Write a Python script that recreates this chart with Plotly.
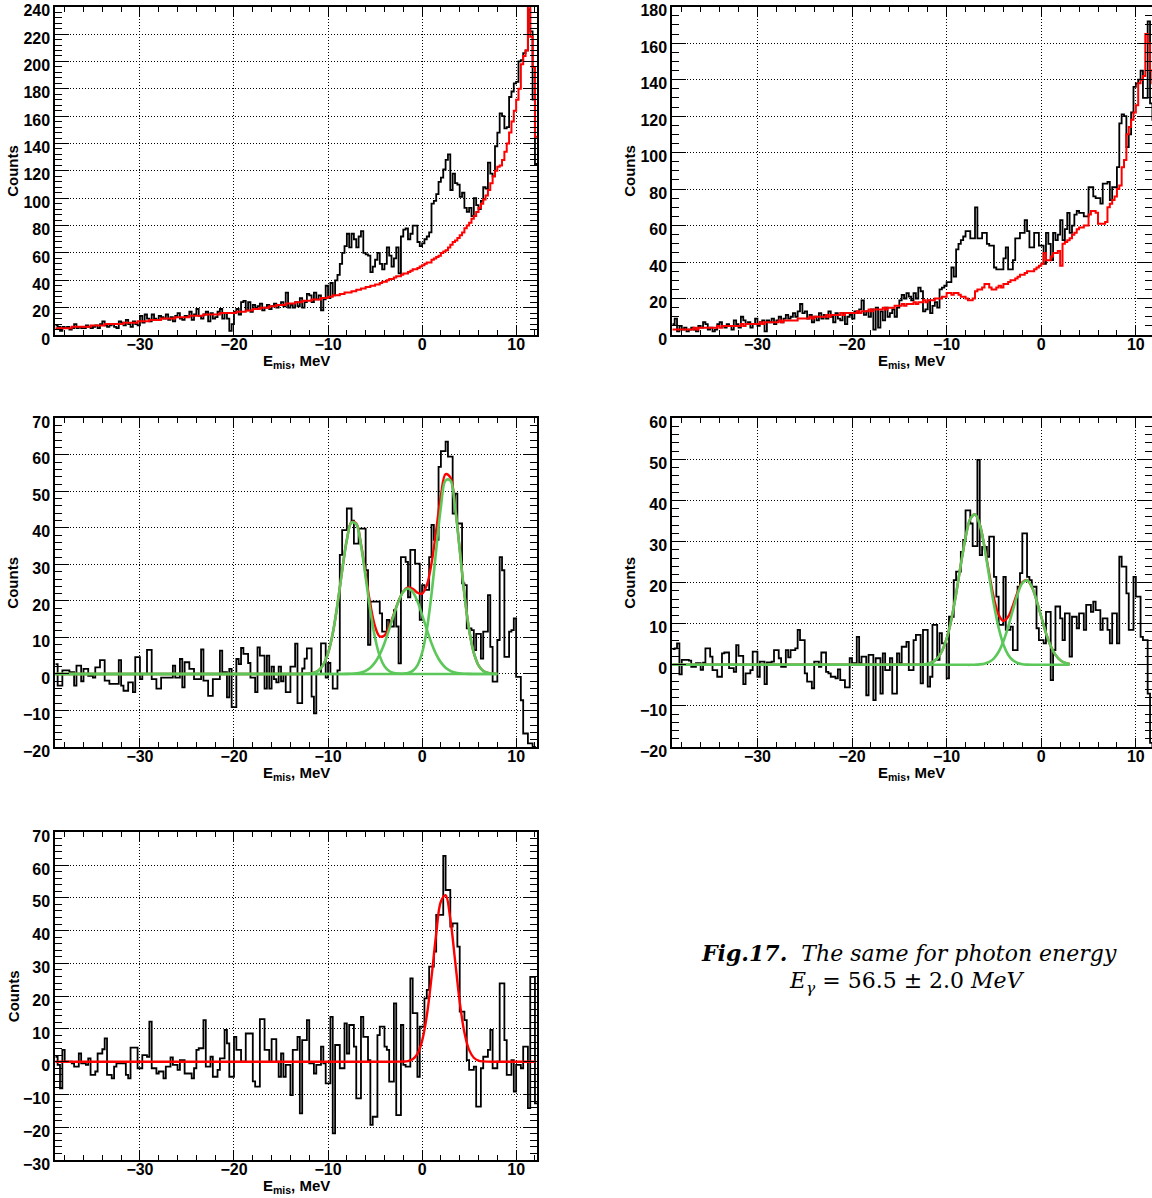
import numpy as np
import plotly.graph_objects as go

# ---------------- data ----------------
X_MIN = -39.0      # first bin low edge (MeV)
BIN_W = 0.25       # bin width (MeV)

# panel A (top-left): measured counts and background (red)
A_COUNTS = [
    7, 6, 3, 6,  5, 6, 4, 5,  8, 5, 6, 5,  5, 7, 6, 5,  6, 7, 5, 8,
    10, 7, 6, 7,  8, 6, 5, 10,  9, 7, 11, 8,  6, 10, 8, 7,  14, 9, 15, 12,
    10, 15, 12, 11,  14, 13, 12, 15,  11, 13, 10, 14,  16, 12, 11, 14,  13, 17, 11, 15,
    19, 14, 12, 15,  17, 10, 16, 12,  13, 17, 19, 12,  16, 12, 3, 8,  17, 19, 15, 24,
    25, 18, 24, 17,  22, 19, 21, 23,  18, 20, 22, 19,  21, 23, 20, 22,  24, 21, 31, 20,
    22, 20, 24, 21,  27, 20, 24, 30,  29, 24, 31, 26,  29, 18, 26, 36,  27, 38, 29, 40,
    44, 52, 60, 65,  74, 64, 74, 70,  64, 72, 76, 60,  59, 58, 46, 50,  55, 60, 52, 48,
    52, 64, 58, 50,  56, 64, 45, 72,  77, 78, 70, 74,  80, 80, 68, 65,  67, 70, 72, 75,
    96, 98, 103, 112,  115, 121, 128, 132,  106, 118, 111, 110,  101, 104, 93, 90,
    93, 87, 100, 95,  92, 98, 108, 107,  126, 118, 116, 138,  148, 162, 160, 151,
    152, 174, 178, 184,  185, 200, 201, 206,  208, 238, 222, 172,  125,
]
A_BACKGROUND = [
    5, 5, 5, 5,  5, 5, 5, 6,  6, 6, 6, 6,  6, 6, 6, 7,  7, 7, 7, 7,
    7, 8, 8, 8,  8, 8, 8, 8,  8, 9, 9, 9,  9, 9, 9, 10,  10, 10, 10, 10,
    11, 11, 11, 11,  11, 12, 12, 12,  12, 12, 12, 13,  13, 13, 13, 13,  13, 14, 14, 14,
    14, 14, 14, 15,  15, 15, 15, 15,  15, 15, 16, 16,  16, 16, 16, 16,  16, 17, 17, 17,
    17, 18, 18, 18,  19, 19, 19, 20,  20, 20, 20, 21,  21, 21, 22, 22,  22, 22, 23, 23,
    23, 23, 24, 24,  24, 25, 25, 25,  25, 26, 26, 26,  26, 27, 27, 27,  28, 28, 29, 29,
    29, 30, 30, 31,  31, 31, 32, 32,  33, 33, 34, 34,  35, 35, 36, 36,  37, 37, 38, 39,
    39, 40, 41, 41,  42, 43, 43, 44,  45, 45, 46, 47,  48, 48, 49, 50,  51, 52, 53, 53,
    55, 56, 57, 58,  60, 61, 62, 64,  66, 68, 69, 71,  73, 75, 78, 80,  82, 85, 87, 90,
    93, 96, 99, 102,  106, 111, 116, 120,  123, 124, 128, 134,  140, 148, 156, 164,
    172, 180, 198, 204,  208, 245, 218, 196,  145,
]

# panel B (top-right)
B_COUNTS = [
    6, 9, 2, 5,  3, 4, 2, 3,  4, 3, 2, 5,  4, 7, 6, 3,  4, 2, 3, 6,
    7, 5, 4, 6,  5, 3, 8, 6,  4, 10, 8, 6,  7, 4, 6, 9,  5, 7, 8, 2,
    8, 7, 9, 6,  8, 10, 7, 9,  11, 9, 10, 12,  10, 13, 17, 12,  13, 9, 11, 7,
    10, 8, 12, 9,  11, 9, 13, 10,  7, 12, 9, 8,  12, 6, 10, 11,  9, 13, 12, 14,
    19, 11, 13, 10,  14, 3, 15, 4,  13, 8, 15, 10,  12, 14, 10, 15,  19, 22, 20, 23,
    21, 19, 23, 20,  26, 24, 13, 14,  19, 12, 16, 18,  15, 25, 26, 27,  29, 29, 37, 32,
    47, 50, 52, 54,  57, 57, 53, 53,  70, 53, 53, 56,  56, 50, 49, 49,  37, 36, 36, 36,
    42, 48, 36, 36,  41, 53, 53, 56,  56, 63, 57, 48,  48, 56, 56, 49,  49, 39, 56, 50,
    41, 56, 52, 55,  63, 52, 58, 67,  56, 60, 66, 68,  67, 67, 65, 65,  81, 81, 76, 75,
    75, 72, 83, 83,  84, 74, 81, 81,  92, 116, 121, 120,  103, 110, 122, 136,
    138, 140, 145, 130,  130, 172, 127, 118,  110,
]
B_BACKGROUND = [
    3, 3, 3, 3,  3, 3, 3, 3,  3, 4, 3, 4,  4, 4, 4, 4,  4, 4, 4, 5,
    4, 5, 5, 5,  5, 5, 5, 5,  5, 6, 5, 6,  6, 6, 6, 6,  6, 7, 6, 7,
    7, 7, 7, 7,  7, 8, 7, 8,  8, 8, 8, 8,  8, 9, 9, 9,  9, 9, 10, 9,
    10, 10, 10, 10,  10, 11, 10, 11,  11, 11, 11, 12,  11, 12, 12, 12,  12, 12, 13, 12,
    13, 13, 13, 14,  13, 14, 14, 14,  14, 15, 14, 15,  15, 15, 16, 16,  16, 17, 16, 17,
    17, 17, 18, 17,  18, 18, 19, 18,  19, 19, 19, 20,  20, 20, 21, 21,  23, 23, 22, 23,
    23, 22, 21, 21,  20, 19, 19, 20,  24, 25, 25, 26,  28, 28, 26, 25,  25, 26, 27, 26,
    28, 28, 29, 30,  30, 31, 32, 33,  33, 34, 35, 35,  35, 36, 37, 38,  39, 45, 41, 41,
    43, 45, 45, 46,  38, 50, 51, 52,  53, 55, 56, 58,  59, 59, 60, 60,  66, 68, 68, 67,
    61, 61, 61, 62,  70, 72, 74, 76,  80, 82, 92, 96,  110, 114, 118, 122,
    126, 138, 140, 142,  165, 160, 145, 138,  135,
]

# panel C (middle-left): background-subtracted counts
C_COUNTS = [
    2.7, -3.2, -3.2, 1,  1, 1, 0.5, 0.5,  -3.2, 2.3, 2.3, -2,  1.4, 1.4, -0.5, -0.5,
    -1, 1.8, 1.8, 3.8,  3.8, -1.8, -1.8, -2.7,  -2.7, -2.7, -2.7, 3.8,  -3.2, -4.6, -4.6, -2.3,
    -2.3, -5, 4.6, 4.6,  -1.4, 0, 0, 6.6,  6.6, -1.4, -1.4, -4,  -4, -1, -1, -1,
    -1, -1, 2.3, -1,  -1, 4.1, -3.7, 3.2,  3.2, 1.4, 1.4, -1.4,  -1.4, -1.4, 6.7, -1.8,
    -1.8, -6, -6, -1.4,  -1.4, -1.4, 6.4, 0.5,  0.5, -6.4, 1.4, -9.1,  -9.1, 4.1, 2.7, 7.1,
    5.5, 5.5, 3, -1,  -1, -5, 7.3, 5,  5, -4, 5, -4,  2, -1.4, -2.3, 2,
    -2, 0, -5, -5,  2, 2, 8.3, -8,  -8, 1.5, 4.2, 7,  7, -6.2, -10.8, 0,
    0, 8.4, 8.4, -1,  3, 0, -4, -4,  1, 32.6, 39.4, 39.4,  45.3, 45.3, 42, 35.7,
    35.7, 39.8, 39.8, 39.8,  28.4, 8, 19.8, 19.8,  19.8, 19.8, 16.6, 11.6,  11.6, 14.8, 13, 13,
    17.5, 13, 2.9, 32,  32, 30.7, 21, 34,  34, 30.2, 30.2, 14.8,  24.3, 23, 23, 32,
    40.8, 36.7, 36.7, 56.7,  61, 61, 63.6, 59.5,  59.5, 43.9, 49.4, 41.2,  41.2, 24.8, 24.3, 12.5,
    12.5, 12, 6.5, 11,  11, 4.2, 11.6, 11.6,  21.6, 7.4, -2.1, -2.1,  9.3, 32, 28.4, 4.7,
    4.7, 11.6, 12, 15.2,  -0.8, -0.8, -7.2, -16.3,  -16.3, -19, -19, -20,  -22,
]

# panel D (middle-right)
D_COUNTS = [
    3.8, 4, 5.2, -2.3,  1.2, 1.2, 1.2, 1,  -0.5, -0.5, 0.4, 0.4,  -1.2, 0.5, 4, 4,
    2, -1.3, -1.3, -2.9,  -2.9, 2.8, 3, 3,  -0.8, -0.8, -1.7, 4.8,  2.2, 2.2, -4.7, -2.1,
    -2.1, -1.3, 3.2, 3.2,  -2.9, 0.8, 0.8, -4.7,  0.6, 0.6, 0.8, 3.6,  3.6, 1.6, -0.5, -0.5,
    3.6, 1.8, 3.6, 3.6,  4, 8.5, 6, 6,  -2.1, -4.1, -4.1, -5.7,  0.8, 0.8, -0.5, 3,
    3, -1.7, -2.1, -2.9,  -2.9, -3.3, -1.1, -3.7,  -3.7, -5.5, -5.5, 1.6,  0.4, 0.4, 6.8, 0.4,
    2, 2, -7.4, 2.4,  2.4, -8.6, 1.6, 1.6,  -7, 2.8, -1.3, -1.3,  1.6, -7, -7, 2.8,
    0.4, 4.4, 4.4, 5.6,  -1.3, -1.3, 6, 7.3,  7.3, -4.5, 8.5, 8.5,  -5.3, -2.9, 9.7, 9.7,
    1.2, 7.7, 5.2, 5.2,  -3.3, 11.7, 11.7, 20.6,  22.7, 22.7, 27.5, 30.4,  37.6, 37.6, 34.4, 28.9,
    28.9, 49.9, 26.7, 28.7,  28.7, 26.3, 31.2, 31.2,  21.4, 16.6, 9.7, 9.7,  21.4, 8.5, 8.5, 9.3,
    3.6, 3.6, 19, 22.3,  32, 32, 21.4, 20.6,  19, 19, 8.9, 6,  6, 5.2, 12.9, 12.9,
    -3.7, 3.6, 14.2, 14.2,  11.3, 6, 12.5, 12.5,  2, 11.7, 11.7, 8.9,  12.5, 12.5, 8.5, 14.6,
    14.6, 12.9, 15.4, 13.3,  13.3, 8.5, 11.3, 11.3,  8.5, 5.2, 12.5, 12.5,  5.2, 26.3, 23.9, 23.9,
    17.4, 8.5, 8.5, 21.4,  16.6, 16.6, 6.8, 6,  6, -7, -19, -20,  -20,
]

# panel E (bottom-left)
E_COUNTS = [
    1.5, -1, -8.1, 3.6,  0, 0, 0, -0.5,  -1.5, -1.5, 2.5, -0.5,  -0.5, -1, 1, -4,
    -4, -3, 2.5, 2.5,  3.8, 7.1, -4, -4,  -5.1, -1.5, -0.5, -0.5,  -0.5, -0.5, -4, -5.1,
    4.3, 4.3, 4.3, -2,  -2, 2, 2, 1.5,  12.2, -2, -2, -3.6,  -3, -3, -5.1, -1.5,
    -1.5, 1.3, -1, -1,  -2.5, 0.5, 0.5, -3.6,  -3.6, -3.6, -5.1, -2,  3.6, 4.1, 4.1, 12.7,
    -1.5, -1.5, 1.5, -4.6,  -4.6, -2.5, 1, 1,  9.7, 5.6, -4.6, -4.6,  7.6, 3.6, 3.6, 0,
    0, 8.6, 8.6, 8.6,  -6, -7.6, -7.6, 13,  13, 3.6, 3.6, 0,  6.9, 6.9, 0, -4.6,
    2.5, -4.6, -1, -1,  -10.2, 3.6, 3.6, 7.6,  -15.8, 6.6, 6.6, 12.7,  -0.5, -0.5, -3.6, -1,
    -1, 4.6, -0.5, -6.6,  -6.6, 13.7, -21.9, 5.1,  5.1, -2, -2, 11.7,  2.5, 11.2, 11.2, 4.6,
    -11.2, -11.2, 13.7, 7.6,  7.6, 0.5, -19.3, -16.8,  -16.8, 8.1, 10.7, 10.7,  4.6, 3.6, -6.1, -6.1,
    17.8, -16.3, -16.3, 11.2,  -1, -1.5, -1.5, 25.4,  14.8, 14.8, -4.6, 10.7,  10.7, 19.3, 21.9, 29,
    29, 33.6, 44.8, 44.8,  44.8, 62.8, 52.4, 52.4,  41.2, 42.2, 42.2, 35.1,  15.3, 15.3, 12.7, 0.5,
    -2.5, -2.5, -1.5, -13.7,  -13.7, -2, 1.5, 1.5,  3.6, 9.7, -2, -2,  0, 23.9, 23.9, 6.6,
    -4, -4, 0.5, -9.1,  -1, -1, -2, 4.6,  4.6, -14.2, 25.9, 25.9,  -12.7,
]

FIT_STEP = 0.5
C_FIT_START, C_FIT_END = -13.0, 8.0
C_PEAK1 = [0, 0.03, 0.10, 0.33, 0.98, 2.53, 5.68, 11.1, 19.0, 28.3, 36.7, 41.5, 41.0, 35.2,
           26.4, 17.3, 9.84, 4.89, 2.12, 0.80, 0.26, 0.08, 0.02,
           0, 0, 0, 0, 0, 0, 0, 0, 0, 0, 0, 0, 0, 0, 0, 0, 0, 0, 0, 0]
C_PEAK2 = [0, 0, 0, 0, 0, 0, 0, 0, 0, 0,
           0.02, 0.07, 0.17, 0.40, 0.86, 1.72, 3.17, 5.38, 8.43, 12.2, 16.2, 19.9, 22.5, 23.4,
           22.5, 19.9, 16.2, 12.2, 8.43, 5.38, 3.17, 1.72, 0.86, 0.40, 0.17, 0.07, 0.02,
           0, 0, 0, 0, 0, 0]
C_PEAK3 = [0, 0, 0, 0, 0, 0, 0, 0, 0, 0, 0, 0, 0, 0, 0, 0, 0, 0, 0, 0, 0,
           0.02, 0.07, 0.26, 0.84, 2.37, 5.77, 12.1, 21.8, 34.0, 45.7, 53.0, 53.0, 45.7,
           34.0, 21.8, 12.1, 5.77, 2.37, 0.84, 0.26, 0.07, 0.02]

D_FIT_START, D_FIT_END = -13.0, 3.0
D_PEAK1 = [0.03, 0.08, 0.25, 0.65, 1.54, 3.30, 6.36, 11.05, 17.3, 24.4, 31.0, 35.5, 36.6,
           34.1, 28.5, 21.5, 14.6, 8.98, 4.96, 2.46, 1.11, 0.45, 0.16, 0.05, 0.01,
           0, 0, 0, 0, 0, 0, 0, 0]
D_PEAK2 = [0, 0, 0, 0, 0, 0, 0, 0, 0, 0, 0, 0,
           0.03, 0.10, 0.28, 0.70, 1.58, 3.18, 5.73, 9.24, 13.3, 17.2, 19.9, 20.56, 19.0,
           15.7, 11.7, 7.73, 4.58, 2.43, 1.16, 0.49, 0.19]

E_FIT_START, E_FIT_END = -3.0, 7.5
E_PEAK = [0, 0.01, 0.04, 0.19, 0.74, 2.37, 6.35, 14.0, 25.7, 39.0, 48.9, 50.8, 43.6,
          31.1, 18.3, 8.9, 3.6, 1.2, 0.33, 0.08, 0.02, 0]

X_TICK_STEP, X_MINOR_STEP = 10, 2
CAPTION_1 = "<b><i>Fig.17.</i></b>  <i>The same for photon energy</i>"
CAPTION_2 = "<i>E</i><sub><i>γ</i></sub> = 56.5 ± 2.0 <i>MeV</i>"
X_TITLE = "E<sub>mis</sub>, MeV"
Y_TITLE = "Counts"

# ---------------- figure ----------------
W, H = 1152, 1198
BLACK, RED, GREEN = "#000000", "#ff0000", "#5cc85a"
FONT = "Liberation Sans"

def grid(start, end):
    return np.arange(start, end + FIT_STEP / 2, FIT_STEP)

for name, arr in [("A", A_COUNTS), ("Ab", A_BACKGROUND), ("B", B_COUNTS), ("Bb", B_BACKGROUND),
                  ("C", C_COUNTS), ("D", D_COUNTS), ("E", E_COUNTS)]:
    assert len(arr) == 205, (name, len(arr))
assert len(C_PEAK1) == len(C_PEAK2) == len(C_PEAK3) == len(grid(C_FIT_START, C_FIT_END))
assert len(D_PEAK1) == len(D_PEAK2) == len(grid(D_FIT_START, D_FIT_END))
assert len(E_PEAK) == len(grid(E_FIT_START, E_FIT_END))

LEFT_X = (55.3, 537.3)
RIGHT_X = (672.3, 1152.0)
PANELS = [
    dict(xpx=LEFT_X, ypx=(6.7, 335.0), xr=(-39, 12.25), yr=(0, 240), ydt=20, ymn=4),
    dict(xpx=RIGHT_X, ypx=(6.7, 335.0), xr=(-39, -39 + (1152 - 672.3) / 9.46), yr=(0, 180), ydt=20, ymn=5),
    dict(xpx=LEFT_X, ypx=(418.3, 747.0), xr=(-39, 12.25), yr=(-20, 70), ydt=10, ymn=2),
    dict(xpx=RIGHT_X, ypx=(418.3, 747.0), xr=(-39, -39 + (1152 - 672.3) / 9.46), yr=(-20, 60), ydt=10, ymn=2),
    dict(xpx=LEFT_X, ypx=(832.3, 1160.0), xr=(-39, 12.25), yr=(-30, 70), ydt=10, ymn=2),
]

fig = go.Figure()

def axn(i):
    return ("x" if i == 0 else f"x{i+1}", "y" if i == 0 else f"y{i+1}")

def hist(i, counts, color, width):
    xa, ya = axn(i)
    c = np.asarray(counts, float)
    edges = X_MIN + BIN_W * np.arange(len(c) + 1)
    fig.add_trace(go.Scatter(x=edges, y=np.append(c, c[-1]), mode="lines",
                             line=dict(shape="hv", color=color, width=width),
                             xaxis=xa, yaxis=ya, showlegend=False, hoverinfo="skip"))

def curve(i, start, end, vals, color, width, x_last=None):
    xa, ya = axn(i)
    xs = [X_MIN] + list(grid(start, end))
    ys = [0.0] + list(vals)
    if x_last is not None:
        xs = xs + [x_last]
        ys = ys + [0.0]
    fig.add_trace(go.Scatter(x=xs, y=ys, mode="lines",
                             line=dict(shape="spline", color=color, width=width),
                             xaxis=xa, yaxis=ya, showlegend=False, hoverinfo="skip"))

HW = 1.8
# A
hist(0, A_COUNTS, BLACK, HW)
hist(0, A_BACKGROUND, RED, 2.0)
# B
hist(1, B_COUNTS, BLACK, HW)
hist(1, B_BACKGROUND, RED, 2.0)
# C
hist(2, C_COUNTS, BLACK, HW)
c_sum = np.array(C_PEAK1) + np.array(C_PEAK2) + np.array(C_PEAK3)
curve(2, C_FIT_START, C_FIT_END, c_sum, RED, 2.4)
for pk in (C_PEAK1, C_PEAK2, C_PEAK3):
    curve(2, C_FIT_START, C_FIT_END, pk, GREEN, 2.6)
# D
hist(3, D_COUNTS, BLACK, HW)
d_sum = np.array(D_PEAK1) + np.array(D_PEAK2)
curve(3, D_FIT_START, D_FIT_END, d_sum, RED, 2.4)
for pk in (D_PEAK1, D_PEAK2):
    curve(3, D_FIT_START, D_FIT_END, pk, GREEN, 2.6)
# E
hist(4, E_COUNTS, BLACK, HW)
curve(4, E_FIT_START, E_FIT_END, E_PEAK, RED, 2.4, x_last=12.0)

tickfont = dict(family=FONT, size=16, color="black", weight="bold")
layout = dict(width=W, height=H, margin=dict(l=0, r=0, t=0, b=0, pad=0, autoexpand=False),
              paper_bgcolor="white", plot_bgcolor="white", showlegend=False)

annotations = []
for i, p in enumerate(PANELS):
    xa, ya = axn(i)
    xkey = "xaxis" if i == 0 else f"xaxis{i+1}"
    ykey = "yaxis" if i == 0 else f"yaxis{i+1}"
    x0, x1 = p["xpx"]
    ytop, ybot = p["ypx"]
    layout[xkey] = dict(
        domain=[x0 / W, x1 / W], range=list(p["xr"]), anchor=ya, automargin=False,
        tick0=0, dtick=X_TICK_STEP, ticks="inside", ticklen=9, tickwidth=1, tickcolor="black",
        minor=dict(dtick=X_MINOR_STEP, tick0=0, ticks="inside", ticklen=5, tickwidth=1,
                   tickcolor="black", showgrid=False),
        showline=True, linecolor="black", linewidth=2, mirror="allticks",
        showgrid=True, gridcolor="black", gridwidth=1, griddash="1px,2px",
        zeroline=False, tickfont=tickfont, ticklabelstandoff=-6, ticklabeloverflow="allow",
        fixedrange=True)
    layout[ykey] = dict(
        domain=[1 - ybot / H, 1 - ytop / H], range=list(p["yr"]), anchor=xa, automargin=False,
        tick0=0, dtick=p["ydt"], ticks="inside", ticklen=14, tickwidth=1, tickcolor="black",
        minor=dict(dtick=p["ymn"], tick0=0, ticks="inside", ticklen=7, tickwidth=1,
                   tickcolor="black", showgrid=False),
        showline=True, linecolor="black", linewidth=2, mirror="allticks",
        showgrid=True, gridcolor="black", gridwidth=1, griddash="1px,2px",
        zeroline=False, tickfont=tickfont, ticklabeloverflow="allow", ticklabelshift=4,
        fixedrange=True)
    ycen = (ytop + ybot) / 2
    tx = 13 if x0 < 300 else 630
    annotations.append(dict(x=tx / W, y=1 - ycen / H, xref="paper", yref="paper",
                            text=Y_TITLE, textangle=-90, showarrow=False,
                            xanchor="center", yanchor="middle",
                            font=dict(family=FONT, size=15, color="black", weight="bold")))
    xcen = 296 if x0 < 300 else 911
    annotations.append(dict(x=xcen / W, y=1 - (ybot + 26) / H, xref="paper", yref="paper",
                            text=X_TITLE, showarrow=False, xanchor="center", yanchor="middle",
                            font=dict(family=FONT, size=15, color="black", weight="bold")))

annotations.append(dict(x=909 / W, y=1 - 953 / H, xref="paper", yref="paper",
                        text=CAPTION_1, showarrow=False, xanchor="center", yanchor="middle",
                        font=dict(family="DejaVu Serif", size=22, color="black")))
annotations.append(dict(x=907 / W, y=1 - 982 / H, xref="paper", yref="paper",
                        text=CAPTION_2, showarrow=False, xanchor="center", yanchor="middle",
                        font=dict(family="DejaVu Serif", size=22, color="black")))
layout["annotations"] = annotations
fig.update_layout(**layout)

fig.write_html("out.html", config={"displayModeBar": False})
